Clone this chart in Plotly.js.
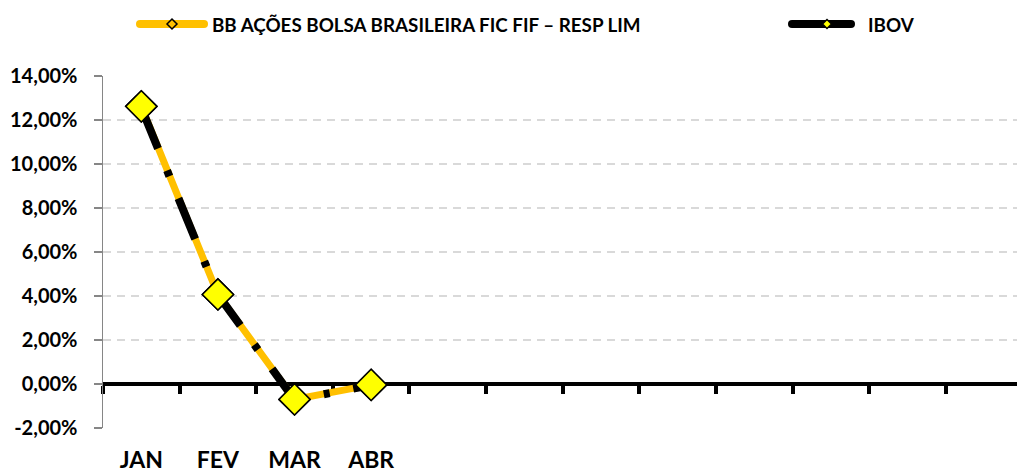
<!DOCTYPE html>
<html>
<head>
<meta charset="utf-8">
<script src="https://cdn.plot.ly/plotly-3.0.1.min.js"></script>
<style>html,body{margin:0;padding:0;background:#fff;}#chart{width:1017px;height:473px;}</style>
</head>
<body>
<div id="chart"></div>
<script>
const months = ['JAN','FEV','MAR','ABR','MAI','JUN','JUL','AGO','SET','OUT','NOV','DEZ'];
const dataMonths = ['JAN','FEV','MAR','ABR'];
const bbName = 'BB AÇÕES BOLSA BRASILEIRA FIC FIF – RESP LIM';
const bbValues = [12.62, 4.07, -0.70, -0.04];
const ibovName = 'IBOV';
const ibovValues = [12.56, 4.06, -0.72, -0.05];
const yTicks = [-2, 0, 2, 4, 6, 8, 10, 12, 14];

const FONT = 'Lato, "Open Sans", sans-serif';
const fmt = v => v.toFixed(2).replace('.', ',') + '%';

// geometry helpers (pixel -> paper) for the hand-drawn legend
const M = {l: 103, r: 0, t: 76, b: 45};
const W = 1017, H = 473;
const pw = W - M.l - M.r, ph = H - M.t - M.b;
const px = x => (x - M.l) / pw;
const py = y => (H - M.b - y) / ph;

const traces = [
  {
    x: dataMonths, y: bbValues, name: bbName, type: 'scatter', mode: 'lines+markers', showlegend: false,
    line: {color: '#FFC000', width: 7},
    marker: {symbol: 'diamond', size: 24, color: '#FFFF00', line: {color: '#000', width: 1.5}}
  },
  {
    x: dataMonths, y: ibovValues, name: ibovName, type: 'scatter', mode: 'lines+markers', showlegend: false,
    line: {color: '#000000', width: 8, dash: '44px,24px,6px,24px'},
    marker: {symbol: 'diamond', size: 9, color: '#FFFF00', line: {color: '#000', width: 1}}
  },
  {
    x: dataMonths, y: bbValues, name: bbName, type: 'scatter', mode: 'markers', showlegend: false,
    marker: {symbol: 'diamond', size: 24, color: '#FFFF00', line: {color: '#000', width: 1.5}},
    hoverinfo: 'skip'
  }
];

function legendShapes(x0, x1, xm, y, lineColor, markFill, markR) {
  const cap = 4;
  return [
    {type: 'line', xref: 'paper', yref: 'paper', x0: px(x0), x1: px(x1), y0: py(y), y1: py(y),
     line: {color: lineColor, width: 8}},
    {type: 'circle', xref: 'paper', yref: 'paper', x0: px(x0 - cap), x1: px(x0 + cap), y0: py(y + cap), y1: py(y - cap),
     fillcolor: lineColor, line: {width: 0}},
    {type: 'circle', xref: 'paper', yref: 'paper', x0: px(x1 - cap), x1: px(x1 + cap), y0: py(y + cap), y1: py(y - cap),
     fillcolor: lineColor, line: {width: 0}},
    {type: 'path', xref: 'paper', yref: 'paper',
     path: `M${px(xm - markR)},${py(y)} L${px(xm)},${py(y - markR)} L${px(xm + markR)},${py(y)} L${px(xm)},${py(y + markR)} Z`,
     fillcolor: markFill, line: {color: '#000', width: 1.5}}
  ];
}

const shapes = [].concat(
  legendShapes(140, 204, 172, 24, '#FFC000', '#FFC000', 5),
  legendShapes(792, 851, 827, 24, '#000000', '#FFFF00', 4.5)
);

const annotations = [
  {xref: 'paper', yref: 'paper', x: px(210), y: py(24), xanchor: 'left', yanchor: 'middle', showarrow: false,
   text: bbName, font: {family: FONT, size: 18.8, weight: 'bold', color: '#000'}},
  {xref: 'paper', yref: 'paper', x: px(866), y: py(24), xanchor: 'left', yanchor: 'middle', showarrow: false,
   text: ibovName, font: {family: FONT, size: 18.8, weight: 'bold', color: '#000'}}
];

const layout = {
  width: W, height: H,
  margin: {l: M.l, r: M.r, t: M.t, b: M.b, pad: 0},
  paper_bgcolor: '#ffffff', plot_bgcolor: '#ffffff',
  font: {family: FONT, color: '#000'},
  showlegend: false,
  shapes: shapes,
  annotations: annotations,
  xaxis: {
    type: 'category', categoryorder: 'array', categoryarray: months,
    range: [-0.5, 11.43], anchor: 'free', position: 0.125,
    showline: true, linecolor: '#000', linewidth: 4,
    ticks: 'outside', tickson: 'boundaries', ticklen: 8, tickwidth: 4, tickcolor: '#000',
    tickvals: months, ticktext: months.map(m => dataMonths.includes(m) ? m : ''),
    ticklabelstandoff: 54,
    tickfont: {family: FONT, size: 23, weight: 'bold', color: '#000'},
    showgrid: false, zeroline: false, layer: 'below traces', fixedrange: true
  },
  yaxis: {
    range: [-2, 14], tickvals: yTicks, ticktext: yTicks.map(fmt),
    showline: true, linecolor: '#868686', linewidth: 1.5,
    ticks: 'outside', ticklen: 8, tickwidth: 1.5, tickcolor: '#868686',
    ticklabelstandoff: 12,
    tickfont: {family: FONT, size: 20, weight: 'bold', color: '#000'},
    showgrid: true, gridcolor: '#d9d9d9', gridwidth: 2, griddash: '8px,6px',
    zeroline: false, fixedrange: true
  }
};

Plotly.newPlot('chart', traces, layout, {displayModeBar: false, staticPlot: true});
</script>
</body>
</html>
